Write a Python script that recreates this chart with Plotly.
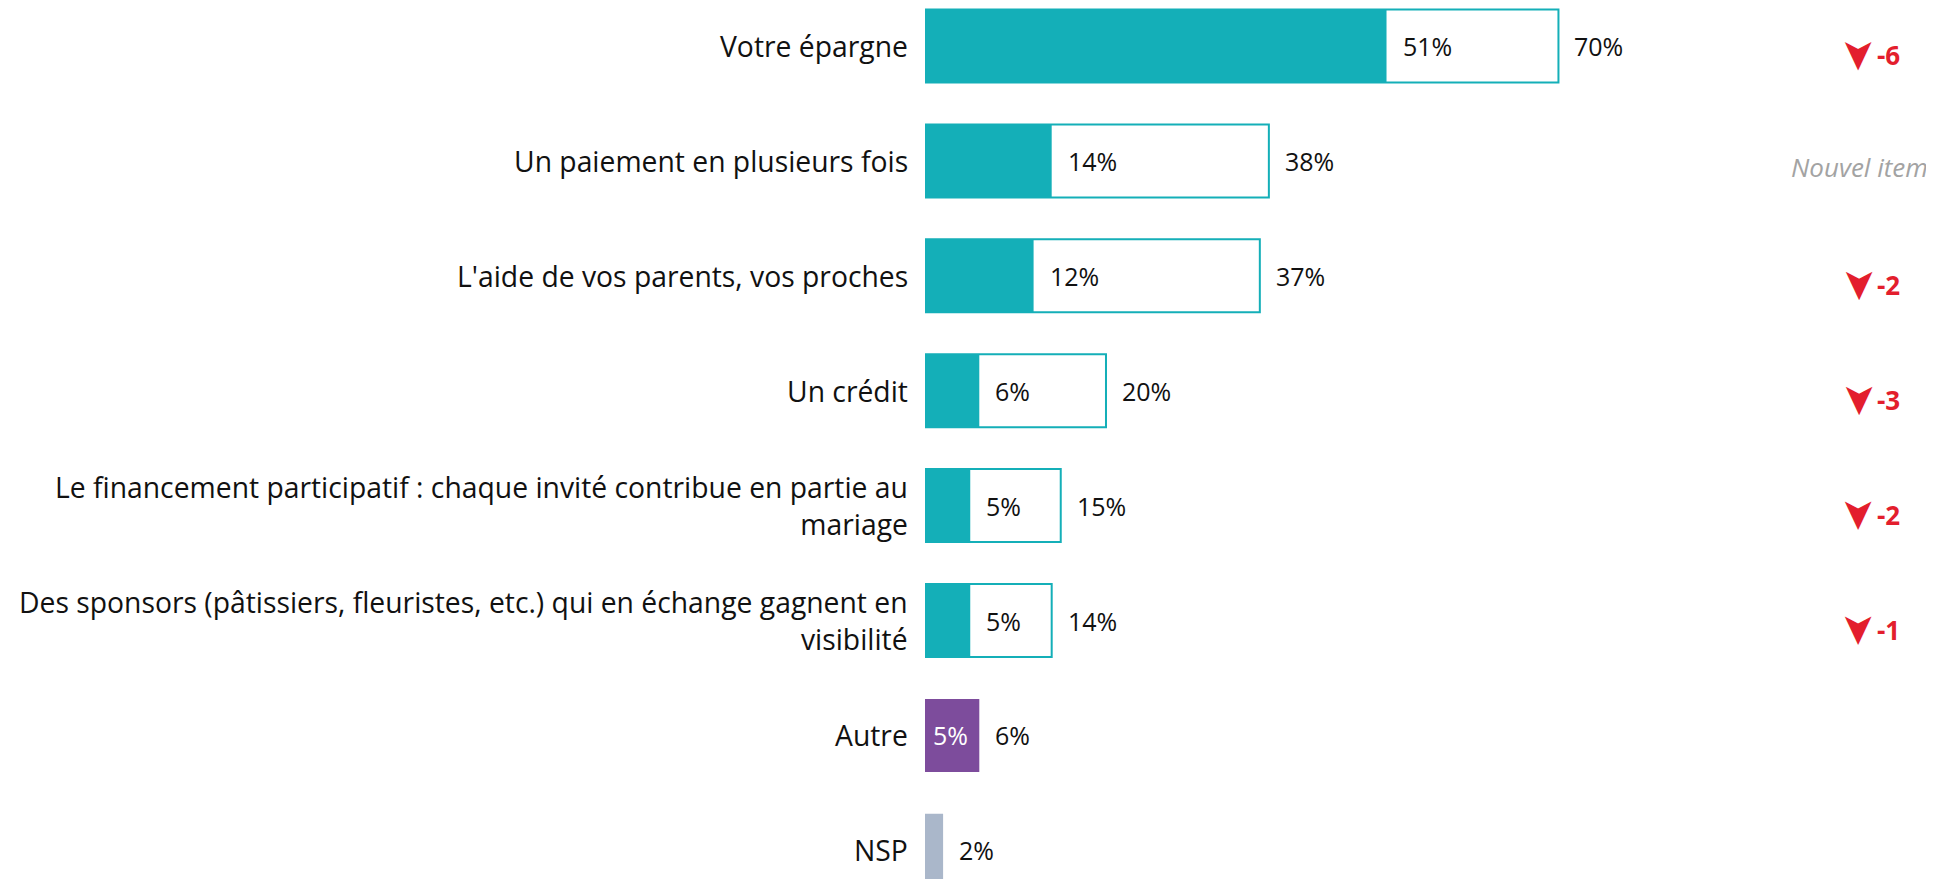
import plotly.graph_objects as go

categories = [
    "Votre épargne",
    "Un paiement en plusieurs fois",
    "L'aide de vos parents, vos proches",
    "Un crédit",
    "Le financement participatif : chaque invité contribue en partie au<br>mariage",
    "Des sponsors (pâtissiers, fleuristes, etc.) qui en échange gagnent en<br>visibilité",
    "Autre",
    "NSP",
]
first_choice = [51, 14, 12, 6, 5, 5, 5, None]
total_choice = [70, 38, 37, 20, 15, 14, 6, 2]
evolution = [-6, None, -2, -3, -2, -1, None, None]
new_item = [False, True, False, False, False, False, False, False]

TEAL = "#14AFB8"
PURPLE = "#7D4C9C"
GREY = "#AAB7CA"
RED = "#E31E2D"
FONT = "Open Sans"

n = len(categories)
rows = list(range(n))
main_rows = rows[:6]
BAR_W = 0.635

fig = go.Figure()

# outline bars (total)
fig.add_trace(go.Bar(
    y=main_rows, x=total_choice[:6], orientation="h", width=BAR_W,
    marker=dict(color="white", line=dict(color=TEAL, width=2)),
    hoverinfo="skip", showlegend=False,
))
# filled bars (first choice)
fig.add_trace(go.Bar(
    y=main_rows, x=first_choice[:6], orientation="h", width=BAR_W,
    marker=dict(color=TEAL, line=dict(width=0)),
    hoverinfo="skip", showlegend=False,
))
# Autre
fig.add_trace(go.Bar(
    y=[6], x=[total_choice[6]], orientation="h", width=BAR_W,
    marker=dict(color=PURPLE, line=dict(width=0)),
    hoverinfo="skip", showlegend=False,
))
# NSP
fig.add_trace(go.Bar(
    y=[7], x=[total_choice[7]], orientation="h", width=BAR_W,
    marker=dict(color=GREY, line=dict(width=0)),
    hoverinfo="skip", showlegend=False,
))

annotations = []
for i in rows:
    annotations.append(dict(
        x=0, xref="paper", y=i, yref="y", text=categories[i],
        xanchor="right", yanchor="middle", align="right", xshift=-15,
        showarrow=False, font=dict(family=FONT, size=28.3, color="#111111"),
    ))
    # inner label
    if first_choice[i] is not None:
        inner_x = first_choice[i] if i < 6 else 0
        annotations.append(dict(
            x=inner_x, xref="x", y=i, yref="y", text=f"{first_choice[i]}%",
            xanchor="left", yanchor="middle", xshift=14 if i < 6 else 6,
            showarrow=False,
            font=dict(family=FONT, size=25, color="white" if i == 6 else "#111111"),
        ))
    # outer label
    annotations.append(dict(
        x=total_choice[i], xref="x", y=i, yref="y", text=f"{total_choice[i]}%",
        xanchor="left", yanchor="middle", xshift=14,
        showarrow=False, font=dict(family=FONT, size=25, color="#111111"),
    ))
    if evolution[i] is not None:
        annotations.append(dict(
            x=103.3, xref="x", y=i, yref="y", text="➤",
            xanchor="center", yanchor="middle", yshift=-9, textangle=90,
            showarrow=False, font=dict(family="DejaVu Sans", size=42, color=RED),
        ))
        annotations.append(dict(
            x=105.0, xref="x", y=i, yref="y", text=f"<b>{evolution[i]}</b>",
            xanchor="left", yanchor="middle", yshift=-9,
            showarrow=False, font=dict(family=FONT, size=26, color=RED),
        ))
    if new_item[i]:
        annotations.append(dict(
            x=103.3, xref="x", y=i, yref="y", text="<i>Nouvel item</i>",
            xanchor="center", yanchor="middle", yshift=-6,
            showarrow=False, font=dict(family=FONT, size=26, color="#A3A3A3"),
        ))

fig.update_layout(
    width=1926, height=871,
    margin=dict(l=917, r=0, t=0, b=0),
    paper_bgcolor="white", plot_bgcolor="white",
    barmode="overlay",
    annotations=annotations,
    xaxis=dict(range=[0, 111.5], visible=False, fixedrange=True),
    yaxis=dict(range=[7.2498, -0.3307], visible=False, fixedrange=True),
)

fig.write_html("out.html")
